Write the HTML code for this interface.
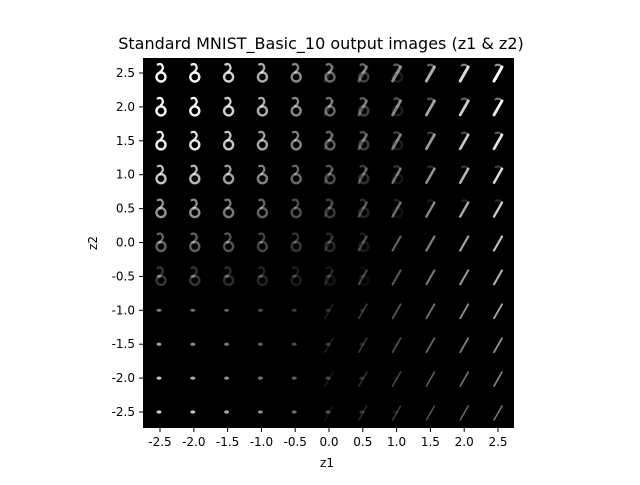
<!DOCTYPE html>
<html><head><meta charset="utf-8"><style>
body{margin:0;background:#fff;font-family:"Liberation Sans","DejaVu Sans",sans-serif}
svg text{font-family:"DejaVu Sans","Liberation Sans",sans-serif;fill:#000}
</style></head><body>
<svg id="c" width="640" height="480" xmlns="http://www.w3.org/2000/svg">
<text x="321" y="49" font-size="16" text-anchor="middle">Standard MNIST_Basic_10 output images (z1 &amp; z2)</text>
<rect x="143" y="58" width="371" height="370" fill="#000"/>
<g id="cells"></g><g id="ticks"></g>
<text x="327" y="467" font-size="12" text-anchor="middle">z1</text>
<text x="97" y="243" font-size="12" text-anchor="middle" transform="rotate(-90 97 243)">z2</text>
</svg>
<script>
const xTicks=[-2.5,-2.0,-1.5,-1.0,-0.5,0.0,0.5,1.0,1.5,2.0,2.5];
const yTicks=[-2.5,-2.0,-1.5,-1.0,-0.5,0.0,0.5,1.0,1.5,2.0,2.5];
const zVals=[-2.5,-2.0,-1.5,-1.0,-0.5,0.0,0.5,1.0,1.5,2.0,2.5];
const xs=v=>160+(v+2.5)*67.6, ys=v=>412-(v+2.5)*67.8;
const NS="http://www.w3.org/2000/svg";
const cells=document.getElementById('cells'), tk=document.getElementById('ticks');
function mk(t,a,p){const e=document.createElementNS(NS,t);for(const k in a)e.setAttribute(k,a[k]);p.appendChild(e);return e;}
const cl=v=>Math.max(0,Math.min(1,v));
zVals.forEach(z2=>zVals.forEach(z1=>{
  const cx=xs(z1), cy=ys(z2);
  const g=mk('g',{},cells);
  
  
  const t=(z1+2.5)/5, u=(z2+2.5)/5;
  const ring=cl(1.1-1.4*t)*cl(u*1.8-0.5);
  const slash=cl((t-0.4)*1.7)*(0.5+0.5*u);
  const dot=cl(1-1.3*t)*cl(1-u*1.5)*0.9;
  if(ring>0.05){
    mk('circle',{cx:cx+1,cy:cy+4,r:4.5,fill:'none',stroke:'#fff','stroke-width':2.4,opacity:ring},g);
    mk('path',{d:`M${cx-3} ${cy-8} Q${cx+2} ${cy-11} ${cx+3} ${cy-5} Q${cx+2} ${cy-2} ${cx-1} ${cy}`,fill:'none',stroke:'#fff','stroke-width':2.2,opacity:ring},g);
  }
  if(slash>0.05){
    mk('path',{d:`M${cx-4} ${cy+8} L${cx+4} ${cy-6}`,stroke:'#fff','stroke-width':1.4+1.6*u,'stroke-linecap':'round',opacity:cl(slash)},g);
    if(u>0.5) mk('path',{d:`M${cx+4} ${cy-6} Q${cx} ${cy-10} ${cx-3} ${cy-7}`,fill:'none',stroke:'#fff','stroke-width':2,opacity:cl(slash*(u-0.4))},g);
  }
  if(dot>0.05){
    mk('ellipse',{cx:cx-1,cy:cy,rx:2.5,ry:1.6,fill:'#fff',opacity:Math.min(0.8,dot)},g);
  }
}));
xTicks.forEach(v=>{const x=xs(v);
  mk('line',{x1:x,x2:x,y1:428,y2:432,stroke:'#000'},tk);
  const t=mk('text',{x:x,y:446,'font-size':12,'text-anchor':'middle'},tk);t.textContent=v.toFixed(1);
  
  });
yTicks.forEach(v=>{const y=ys(v);
  mk('line',{x1:139,x2:143,y1:y,y2:y,stroke:'#000'},tk);
  const t=mk('text',{x:135,y:y+4,'font-size':12,'text-anchor':'end'},tk);t.textContent=v.toFixed(1);
  
  });
</script>
</body></html>
